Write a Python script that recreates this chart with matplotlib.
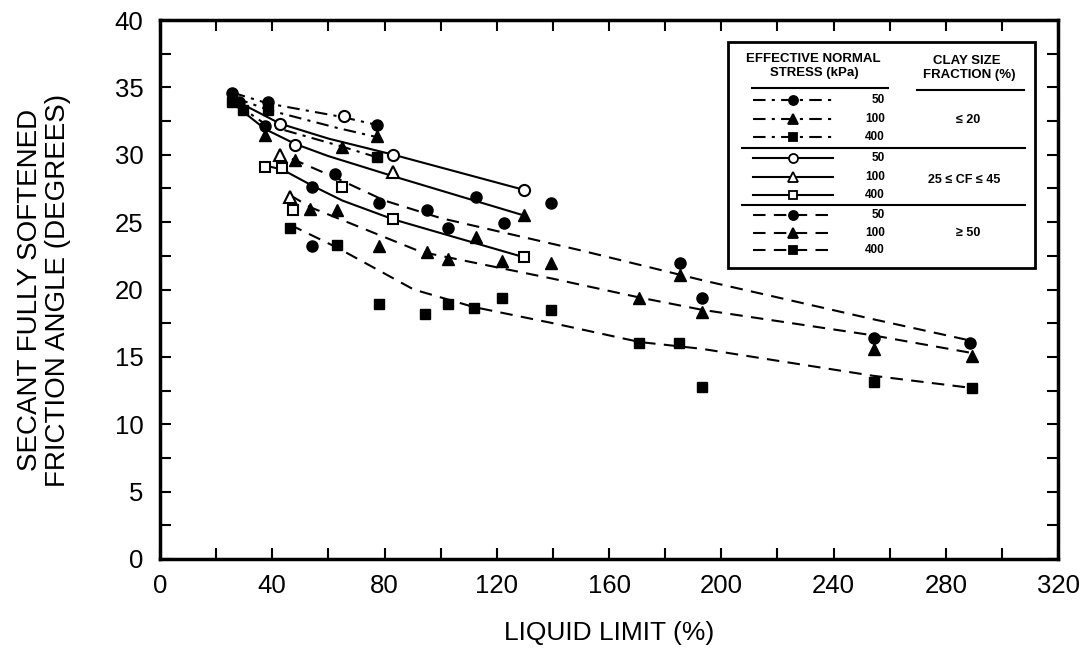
import matplotlib.pyplot as plt
from matplotlib.patches import Rectangle

plt.rcParams['font.family'] = ['Liberation Sans', 'DejaVu Sans']

# ---- trend lines (liquid limit %, secant friction angle deg) ----
# CF <= 20 %  (dash-dot)
g1_50_ll = [26, 38.6, 65, 77.5]
g1_50_phi = [34.6, 33.8, 32.8, 32.2]
g1_100_ll = [27, 39, 63, 77.5]
g1_100_phi = [34.2, 33.3, 32.0, 31.3]
g1_400_ll = [27, 38, 65, 77.5]
g1_400_phi = [33.8, 32.2, 30.6, 29.8]

# 25 <= CF <= 45 %  (solid)
g2_50_ll = [28, 42.9, 60, 83.2, 129.6]
g2_50_phi = [33.9, 32.3, 31.2, 30.0, 27.4]
g2_100_ll = [29, 37.5, 48.2, 60, 83.2, 129.6]
g2_100_phi = [33.3, 31.9, 30.8, 29.9, 28.4, 25.5]
g2_400_ll = [37.5, 43.6, 54.3, 65, 83.2, 129.6]
g2_400_phi = [29.2, 28.9, 27.7, 26.6, 25.2, 22.4]

# CF >= 50 %  (dashed)
g3_50_ll = [47, 62.5, 80, 100, 150, 193, 254, 289]
g3_50_phi = [29.7, 28.3, 26.6, 25.3, 22.9, 20.7, 17.8, 16.2]
g3_100_ll = [46.4, 53.6, 63.2, 92.9, 140, 171, 193, 254, 289]
g3_100_phi = [27.0, 26.1, 25.3, 22.8, 20.8, 19.4, 18.5, 16.6, 15.3]
g3_400_ll = [46.4, 63.2, 90.4, 111.8, 140, 171, 193, 254, 289]
g3_400_phi = [24.8, 23.1, 20.0, 18.7, 17.5, 16.1, 15.6, 13.6, 12.7]

# ---- measured points ----
fill_circ_ll = [25.5, 38.6, 77.5, 54.3, 62.5, 77.9, 95.3, 102.5, 112.5, 122.5,
                139.3, 185.4, 193.2, 254.3, 288.6, 54.3, 37.5, 28.0]
fill_circ_phi = [34.6, 33.9, 32.2, 27.6, 28.6, 26.4, 25.9, 24.6, 26.9, 24.9,
                 26.4, 22.0, 19.4, 16.4, 16.0, 23.2, 32.1, 33.9]
fill_tri_ll = [26.5, 77.5, 65, 37.5, 48.2, 53.6, 63.2, 77.9, 95.3, 102.5, 112.5,
               122, 129.6, 139.3, 170.7, 185.4, 193.2, 254.3, 289.3]
fill_tri_phi = [34.3, 31.4, 30.6, 31.5, 29.6, 26.0, 25.9, 23.2, 22.8, 22.3, 23.9,
                22.1, 25.5, 22.0, 19.4, 21.1, 18.3, 15.6, 15.1]
fill_sq_ll = [25.5, 29.5, 38.6, 77.5, 46.4, 63.2, 77.9, 94.6, 102.5, 111.8, 122,
              139.3, 170.7, 185, 193.2, 254.3, 289.3]
fill_sq_phi = [33.9, 33.3, 33.3, 29.8, 24.6, 23.3, 18.9, 18.2, 18.9, 18.6, 19.4,
               18.5, 16.0, 16.0, 12.8, 13.1, 12.7]
open_circ_ll = [42.9, 48.2, 65.4, 83.2, 129.6]
open_circ_phi = [32.3, 30.7, 32.9, 30.0, 27.4]
open_tri_ll = [42.9, 46.4, 83.2]
open_tri_phi = [30.0, 26.9, 28.7]
open_sq_ll = [37.5, 43.6, 47.5, 65, 83.2, 129.6]
open_sq_phi = [29.1, 29.0, 25.9, 27.6, 25.2, 22.4]

stress_labels = ['50', '100', '400']
cf_labels = ['\u2264 20', '25 \u2264 CF \u2264 45', '\u2265 50']

DASHDOT = (0, (6, 3, 1.5, 3))
DASHED = (0, (6, 4))

fig = plt.figure(figsize=(10.84, 6.59), dpi=100)
ax = fig.add_axes([160 / 1084, 100 / 659, 898 / 1084, 539 / 659])

lw = 1.5
for xs, ys in [(g1_50_ll, g1_50_phi), (g1_100_ll, g1_100_phi), (g1_400_ll, g1_400_phi)]:
    ax.plot(xs, ys, color='black', lw=lw, linestyle=DASHDOT, zorder=2)
for xs, ys in [(g2_50_ll, g2_50_phi), (g2_100_ll, g2_100_phi), (g2_400_ll, g2_400_phi)]:
    ax.plot(xs, ys, color='black', lw=lw, linestyle='-', zorder=2)
for xs, ys in [(g3_50_ll, g3_50_phi), (g3_100_ll, g3_100_phi), (g3_400_ll, g3_400_phi)]:
    ax.plot(xs, ys, color='black', lw=lw, linestyle=DASHED, zorder=2)

ax.plot(fill_circ_ll, fill_circ_phi, 'o', color='black', ms=8, zorder=3)
ax.plot(fill_tri_ll, fill_tri_phi, '^', color='black', ms=8.5, zorder=3)
ax.plot(fill_sq_ll, fill_sq_phi, 's', color='black', ms=7, zorder=3)
ax.plot(open_circ_ll, open_circ_phi, 'o', mfc='white', mec='black', mew=1.5, ms=8, zorder=4)
ax.plot(open_tri_ll, open_tri_phi, '^', mfc='white', mec='black', mew=1.5, ms=8.5, zorder=4)
ax.plot(open_sq_ll, open_sq_phi, 's', mfc='white', mec='black', mew=1.5, ms=7, zorder=4)

ax.set_xlim(0, 320)
ax.set_ylim(0, 40)
ax.set_xticks(range(0, 321, 40))
ax.set_xticks(range(20, 321, 40), minor=True)
ax.set_yticks(range(0, 41, 5))
ax.set_yticks([v + 2.5 for v in range(0, 40, 5)], minor=True)
ax.tick_params(which='both', direction='in', length=8, width=1.5,
               top=True, right=True, labelsize=18.5)
ax.tick_params(axis='y', pad=12)
ax.tick_params(axis='x', pad=11)
for s in ax.spines.values():
    s.set_linewidth(2.5)

ax.set_xlabel('LIQUID LIMIT (%)', fontsize=19)
ax.xaxis.set_label_coords(0.5, -0.115)
fig.text(44 / 1084, 1 - 290 / 659, 'SECANT FULLY SOFTENED\nFRICTION ANGLE (DEGREES)',
         rotation=90, ha='center', va='center', fontsize=20, linespacing=1.1)


# ---- hand-built legend (pixel positions converted to axes fraction) ----
def P(x, y):
    return (x - 160) / 898, (559 - y) / 539


x0, y0 = P(728, 268)
x1, y1 = P(1035, 42)
ax.add_patch(Rectangle((x0, y0), x1 - x0, y1 - y0, transform=ax.transAxes,
                       facecolor='white', edgecolor='black', lw=2, zorder=10, clip_on=False))

hfont = dict(fontsize=9.5, fontweight='bold', transform=ax.transAxes, zorder=11,
             ha='center', va='center')
ax.text(*P(813, 59), 'EFFECTIVE NORMAL', **hfont)
ax.text(*P(814, 73), 'STRESS (kPa)', **hfont)
ax.text(*P(967, 61), 'CLAY SIZE', **hfont)
ax.text(*P(969, 75), 'FRACTION (%)', **hfont)


def hline(xa, xb, y, lw_=1.5):
    (ax_, ay), (bx, _) = P(xa, y), P(xb, y)
    ax.plot([ax_, bx], [ay, ay], color='black', lw=lw_, transform=ax.transAxes,
            zorder=11, clip_on=False)


hline(752, 888, 88)
hline(917, 1024, 90)
hline(742, 1025, 148)
hline(742, 1025, 205)

row_y = [100, 119, 137, 158, 177, 195, 215, 233, 250]
styles = [DASHDOT, '-', DASHED]
markers = ['o', '^', 's']
for g in range(3):
    for k in range(3):
        yy = row_y[g * 3 + k]
        (lx0, ly), (lx1, _) = P(753, yy), P(833, yy)
        mx, _ = P(793, yy)
        ax.plot([lx0, lx1], [ly, ly], color='black', lw=1.5, linestyle=styles[g],
                transform=ax.transAxes, zorder=11, clip_on=False)
        face = 'white' if g == 1 else 'black'
        ax.plot([mx], [ly], markers[k], mfc=face, mec='black', mew=1.3,
                ms=6.5 if k != 2 else 5.5, transform=ax.transAxes, zorder=12, clip_on=False)
        ax.text(*P(885, yy), stress_labels[k], fontsize=8.5, fontweight='bold',
                ha='right', va='center', transform=ax.transAxes, zorder=12)

ax.text(*P(968, 120), cf_labels[0], fontsize=9, fontweight='bold', ha='center',
        va='center', transform=ax.transAxes, zorder=12)
ax.text(*P(964, 180), cf_labels[1], fontsize=9, fontweight='bold', ha='center',
        va='center', transform=ax.transAxes, zorder=12)
ax.text(*P(968, 233), cf_labels[2], fontsize=9, fontweight='bold', ha='center',
        va='center', transform=ax.transAxes, zorder=12)

fig.savefig('out.png', dpi=100)
